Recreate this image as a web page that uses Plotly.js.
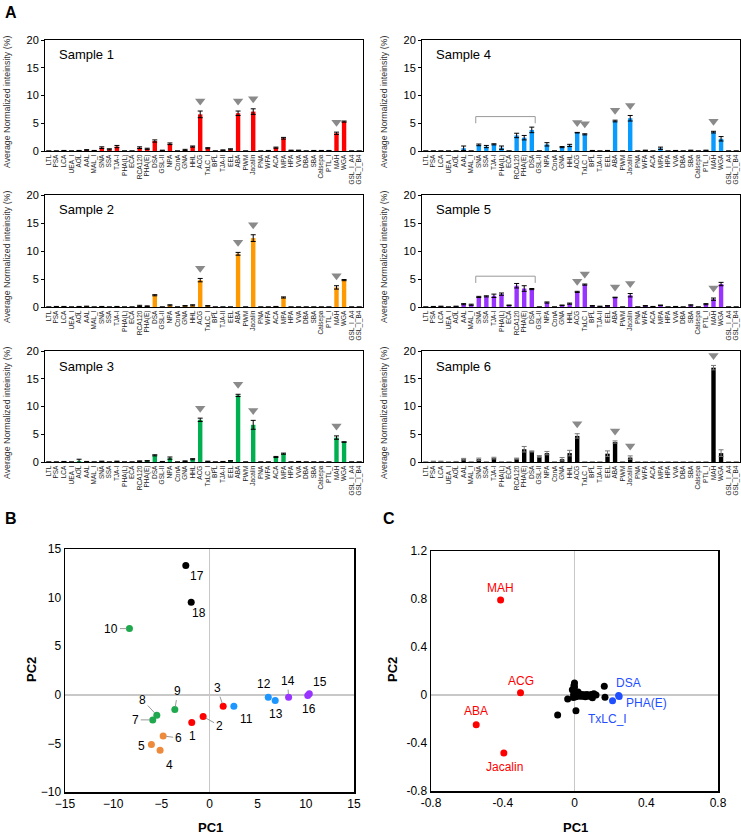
<!DOCTYPE html>
<html><head><meta charset="utf-8">
<script src="https://cdn.plot.ly/plotly-3.0.1.min.js"></script>
<style>html,body{margin:0;padding:0;background:#fff}#chart{width:741px;height:837px}</style>
</head><body><div id="chart"></div>
<script>
const lectins = ['LTL','PSA','LCA','UEA_I','AOL','AAL','MAL_I','SNA','SSA','TJA-I','PHA(L)','ECA','RCA120','PHA(E)','DSA','GSL-II','NPA','ConA','GNA','HHL','ACG','TxLC_I','BPL','TJA-II','EEL','ABA','PWM','Jacalin','PNA','WFA','ACA','MPA','HPA','VVA','DBA','SBA','Calsepa','PTL_I','MAH','WGA','GSL_I_A4','GSL_I_B4'];

const sample1 = [0,0,0.05,0,0.05,0.15,0.05,0.6,0.3,0.8,0,0,0.6,0.4,1.8,0.1,1.3,0,0.2,0.8,6.6,0.5,0,0.15,0.3,6.8,0,7.1,0,0.05,0.6,2.3,0.1,0.1,0,0.05,0.05,0.05,3.2,5.3,0,0];
const err1    = [0,0,0.05,0,0.05,0.1,0.05,0.15,0.1,0.2,0,0,0.15,0.1,0.2,0.05,0.15,0,0.1,0.1,0.6,0.1,0,0.05,0.1,0.4,0,0.5,0,0.05,0.1,0.15,0.05,0.05,0,0.05,0.05,0.05,0.2,0.1,0,0];
const sample2 = [0,0.05,0.05,0,0.05,0.1,0,0.05,0,0.05,0,0,0.2,0.15,2.1,0,0.3,0,0.2,0.3,4.8,0.2,0,0,0,9.5,0,12.3,0,0,0.05,1.7,0,0,0,0,0,0,3.5,4.8,0,0];
const err2    = [0,0.05,0.05,0,0.05,0.05,0,0.05,0,0.05,0,0,0.1,0.05,0.1,0,0.1,0,0.05,0.1,0.3,0.05,0,0,0,0.25,0,0.6,0,0,0.05,0.1,0,0,0,0,0,0,0.3,0.1,0,0];
const sample3 = [0,0,0.05,0,0.2,0.05,0,0.1,0,0.1,0,0,0.15,0.2,1.2,0.05,0.7,0,0.15,0.5,7.6,0.1,0,0.05,0.2,12.0,0,6.7,0,0,0.9,1.5,0,0.05,0,0,0,0,4.4,3.6,0,0];
const err3    = [0,0,0.05,0,0.3,0.05,0,0.05,0,0.05,0,0,0.05,0.05,0.1,0.05,0.2,0,0.05,0.1,0.3,0.05,0,0.05,0.05,0.2,0,0.8,0,0,0.1,0.1,0,0.05,0,0,0,0,0.3,0.05,0,0];
const sample4 = [0,0,0,0,0,0.5,0,1.1,0.8,1.2,0.6,0,2.8,2.4,3.8,0,1.2,0,0.7,1.0,3.3,3.0,0.05,0,0.05,5.4,0,5.9,0,0.1,0,0.5,0,0.05,0,0.1,0,0.1,3.4,2.2,0,0];
const err4    = [0,0,0,0,0,0.4,0,0.15,0.2,0.1,0.3,0,0.4,0.4,0.5,0,0.3,0,0.1,0.2,0.05,0.1,0.05,0,0.05,0.15,0,0.5,0,0.05,0,0.2,0,0.05,0,0.05,0,0.05,0.15,0.4,0,0];
const sample5 = [0,0.05,0.1,0,0.1,0.5,0.4,1.8,1.9,2.0,2.3,0.3,3.8,3.3,3.2,0,0.8,0,0.3,0.6,2.7,4.0,0.2,0.1,0.2,1.7,0,2.1,0,0.2,0.05,0.3,0,0.05,0,0.3,0,0.5,1.4,4.1,0,0];
const err5    = [0,0.05,0.05,0,0.05,0.1,0.1,0.1,0.1,0.3,0.2,0.05,0.4,0.5,0.1,0,0.1,0,0.05,0.1,0.1,0.1,0.05,0.05,0.05,0.05,0,0.3,0,0.05,0.05,0.05,0,0.05,0,0.1,0,0.1,0.2,0.3,0,0];
const sample6 = [0,0.1,0.1,0,0.05,0.5,0,0.5,0,0.7,0,0,0.6,2.3,1.9,1.0,1.6,0,0.5,1.6,4.7,0,0,0,1.5,3.6,0,0.8,0,0,0,0,0,0,0,0,0,0,17.0,1.6,0,0];
const err6    = [0,0.05,0.05,0,0.05,0.15,0,0.2,0,0.15,0,0,0.1,0.5,0.1,0.15,0.3,0,0.3,0.5,0.4,0,0,0,0.5,0.2,0,0.3,0,0,0,0,0,0,0,0,0,0,0.4,0.6,0,0];

const arrows1 = ['ACG','ABA','Jacalin','MAH'];
const arrows2 = ['ACG','ABA','Jacalin','MAH'];
const arrows3 = ['ACG','ABA','Jacalin','MAH'];
const arrows4 = ['ACG','TxLC_I','ABA','Jacalin','MAH'];
const arrows5 = ['ACG','TxLC_I','ABA','Jacalin','MAH'];
const arrows6 = ['ACG','ABA','Jacalin','MAH'];
const sampleNames = ['Sample 1','Sample 2','Sample 3','Sample 4','Sample 5','Sample 6'];

// Panel B: PCA of samples
const pcbLabels = ['1','2','3','4','5','6','7','8','9','10','11','12','13','14','15','16','17','18'];
const pcbX = [-1.84,-0.66,1.42,-5.13,-6.03,-4.81,-5.89,-5.47,-3.6,-8.31,2.53,6.1,6.82,8.21,10.36,10.2,-2.46,-1.9];
const pcbY = [-2.85,-2.24,-1.17,-5.71,-5.12,-4.23,-2.58,-2.1,-1.51,6.81,-1.17,-0.24,-0.58,-0.24,0.1,-0.07,13.31,9.53];
const pcbGroup = [1,1,1,2,2,2,3,3,3,3,4,4,4,5,5,5,6,6];

// Panel C: PCA loadings of lectins
const pccRedNames = ['MAH','ACG','ABA','Jacalin'];
const pccRedX = [-0.412,-0.301,-0.548,-0.394];
const pccRedY = [0.792,0.019,-0.247,-0.483];
const pccBlueNames = ['DSA','PHA(E)','TxLC_I'];
const pccBlueX = [0.246,0.249,0.212];
const pccBlueY = [-0.005,-0.012,-0.047];
const pccBlackX = [-0.094,0.008,-0.038,0.166,0.17,0,-0.003,0,-0.012,0.012,0.05,0.086,0.1,0.108,0.03,0.07,-0.006,0.003,0.02,0.12,0.06,0.04,0.09,0,0.01,0.015,-0.005,0.025,0.035,0.045,0.075,0.095,0.002,0.008,0.055];
const pccBlackY = [-0.167,-0.131,-0.033,0.072,-0.019,0.1,0.08,0.067,0.044,0.011,-0.003,-0.011,-0.022,0.011,-0.01,0.005,-0.02,-0.003,0.025,0,-0.015,0.005,0,0,-0.005,0,0.005,-0.005,0,-0.01,-0.008,0.005,0.03,-0.015,0.002];

// ---------- styling ----------
const FONT = 'Arial, "Liberation Sans", sans-serif';
const W = 741, H = 837;
const px = v => v / W;
const py = v => 1 - v / H;

const samples = [sample1,sample2,sample3,sample4,sample5,sample6];
const errs = [err1,err2,err3,err4,err5,err6];
const arrowsAll = [arrows1,arrows2,arrows3,arrows4,arrows5,arrows6];
const barColors = ['#FF0000','#FF9900','#00B050','#0A9BFF','#9933FF','#000000'];
const errColors = ['#000','#000','#000','#000','#000','#777'];
const colX = [[45,363],[422,740]];
const rowY = [[40,151],[195,307],[351,462]];

const data = [];
const layout = {
  width: W, height: H,
  margin: {l:0,r:0,t:0,b:0},
  paper_bgcolor: '#fff', plot_bgcolor: '#fff',
  showlegend: false,
  bargap: 0.42,
  font: {family: FONT, color: '#000'},
  annotations: [], shapes: []
};

for (let k = 0; k < 6; k++) {
  const col = k < 3 ? 0 : 1, row = k % 3;
  const xa = 'x' + (k+1), ya = 'y' + (k+1);
  const xkey = 'xaxis' + (k === 0 ? '' : k+1), ykey = 'yaxis' + (k === 0 ? '' : k+1);
  layout[xkey] = {
    domain: [px(colX[col][0]), px(colX[col][1])], anchor: ya, type: 'category',
    categoryorder: 'array', categoryarray: lectins,
    tickmode: 'array', tickvals: lectins, ticktext: lectins,
    tickangle: -90, tickfont: {size: 6.5, family: FONT, color: '#222'},
    showline: true, linecolor: '#000', linewidth: 1, mirror: true,
    ticks: '', showgrid: false, zeroline: false, fixedrange: true
  };
  layout[ykey] = {
    domain: [py(rowY[row][1]), py(rowY[row][0])], anchor: xa,
    range: [0, 20], tickvals: [0,5,10,15,20], ticks: 'outside', ticklen: 3, tickcolor: '#000',
    tickfont: {size: 11, family: FONT, color: '#000'},
    showline: true, linecolor: '#000', linewidth: 1, mirror: true,
    showgrid: false, zeroline: false, fixedrange: true
  };
  const vals = samples[k], e = errs[k];
  data.push({
    type: 'bar', x: lectins, y: vals, xaxis: xa, yaxis: ya,
    marker: {color: barColors[k], line: {width: 0}},
    error_y: {type: 'data', array: e, visible: true, color: errColors[k], thickness: 1, width: 2.5}
  });
  const ay = arrowsAll[k].map(n => { const i = lectins.indexOf(n); return vals[i] + e[i] + 1.8; });
  data.push({
    type: 'scatter', mode: 'markers', x: arrowsAll[k], y: ay, xaxis: xa, yaxis: ya,
    cliponaxis: false,
    marker: {symbol: 'triangle-down', size: 9, color: '#8a8a8a', line: {width: 0}}
  });
  layout.annotations.push({
    xref: 'paper', yref: 'paper', x: px(colX[col][0] + 12), y: py(rowY[row][0] + 15),
    xanchor: 'left', yanchor: 'middle', showarrow: false,
    text: sampleNames[k], font: {size: 13, family: FONT, color: '#000'}
  });
  layout.annotations.push({
    xref: 'paper', yref: 'paper', x: px(col === 0 ? 7 : 384), y: py(rowY[row][0] + 62),
    xanchor: 'center', yanchor: 'middle', showarrow: false, textangle: -90,
    text: 'Average Normalized inteinsity (%)', font: {size: 8.8, family: FONT, color: '#333'}
  });
}

// brackets on sample 4 and 5 (SNA..DSA)
const iSNA = lectins.indexOf('SNA') - 0.4, iDSA = lectins.indexOf('DSA') + 0.45;
[[4, 5.0, 6.2], [5, 4.3, 5.5]].forEach(([k, lo, hi]) => {
  const xr = 'x' + k, yr = 'y' + k;
  const ln = {color: '#999', width: 1};
  layout.shapes.push({type:'line', xref:xr, yref:yr, x0:iSNA, x1:iSNA, y0:lo, y1:hi, line:ln});
  layout.shapes.push({type:'line', xref:xr, yref:yr, x0:iSNA, x1:iDSA, y0:hi, y1:hi, line:ln});
  layout.shapes.push({type:'line', xref:xr, yref:yr, x0:iDSA, x1:iDSA, y0:hi, y1:lo, line:ln});
});

// ---------- Panel B ----------
const grpColors = {1:'#FF0000',2:'#EE8A3C',3:'#1FA84D',4:'#1E96FF',5:'#9933FF',6:'#000000'};
layout.xaxis7 = {
  domain: [px(65), px(354)], anchor: 'y7', range: [-15, 15], tickvals: [-15,-10,-5,0,5,10,15],
  tickfont: {size: 12, family: FONT}, ticks: '', showgrid: false,
  zeroline: true, zerolinecolor: '#c8c8c8', zerolinewidth: 1.5,
  showline: true, mirror: true, linecolor: '#000', linewidth: 1.5, fixedrange: true
};
layout.yaxis7 = {
  domain: [py(792), py(549)], anchor: 'x7', range: [-10, 15], tickvals: [-10,-5,0,5,10,15],
  tickfont: {size: 12, family: FONT}, ticks: '', showgrid: false,
  zeroline: true, zerolinecolor: '#c8c8c8', zerolinewidth: 1.5,
  showline: true, mirror: true, linecolor: '#000', linewidth: 1.5, fixedrange: true
};
data.push({
  type: 'scatter', mode: 'markers', x: pcbX, y: pcbY, xaxis: 'x7', yaxis: 'y7',
  marker: {size: 7, color: pcbGroup.map(g => grpColors[g])}
});
const bOff = [[1,13,0],[16,9,1],[-6,-18,1],[9,15,0],[-10,1,0],[15,2,1],[-17,0,1],[-14,-15,1],[3,-18,1],[-18,0,1],
              [13,13,0],[-4,-13,0],[1,14,0],[-1,-16,1],[11,-12,0],[1,14,0],[11,11,0],[8,11,0]];
pcbLabels.forEach((t, i) => {
  const [dx, dy, lead] = bOff[i];
  const a = {xref:'x7', yref:'y7', x: pcbX[i], y: pcbY[i], text: t, font: {size: 12, family: FONT, color:'#000'}};
  if (lead) Object.assign(a, {showarrow: true, ax: dx, ay: dy, arrowhead: 0, arrowwidth: 1, arrowcolor: '#999', standoff: 3});
  else Object.assign(a, {showarrow: false, xshift: dx, yshift: -dy});
  layout.annotations.push(a);
});

// ---------- Panel C ----------
layout.xaxis8 = {
  domain: [px(431), px(718)], anchor: 'y8', range: [-0.8, 0.8], tickvals: [-0.8,-0.4,0,0.4,0.8],
  ticktext: ['-0.8','-0.4','0','0.4','0.8'],
  tickfont: {size: 12, family: FONT}, ticks: '', showgrid: false,
  zeroline: true, zerolinecolor: '#c8c8c8', zerolinewidth: 1.5,
  showline: true, mirror: true, linecolor: '#000', linewidth: 1.5, fixedrange: true
};
layout.yaxis8 = {
  domain: [py(791), py(551)], anchor: 'x8', range: [-0.8, 1.2], tickvals: [-0.8,-0.4,0,0.4,0.8,1.2],
  ticktext: ['-0.8','-0.4','0','0.4','0.8','1.2'],
  tickfont: {size: 12, family: FONT}, ticks: '', showgrid: false,
  zeroline: true, zerolinecolor: '#c8c8c8', zerolinewidth: 1.5,
  showline: true, mirror: true, linecolor: '#000', linewidth: 1.5, fixedrange: true
};
data.push({type:'scatter', mode:'markers', x: pccBlackX, y: pccBlackY, xaxis:'x8', yaxis:'y8', marker:{size:7, color:'#000'}});
data.push({type:'scatter', mode:'markers', x: pccRedX, y: pccRedY, xaxis:'x8', yaxis:'y8', marker:{size:7, color:'#FF0000'}});
data.push({type:'scatter', mode:'markers', x: pccBlueX, y: pccBlueY, xaxis:'x8', yaxis:'y8', marker:{size:7, color:'#1F4FFF'}});
const redOff = [[0,-12],[0,-12],[0,-14],[1,14]];
const blueOff = [[10,-13],[27,7],[-5,18]];
pccRedNames.forEach((t,i) => layout.annotations.push({xref:'x8', yref:'y8', x:pccRedX[i], y:pccRedY[i], text:t, showarrow:false,
  xshift: redOff[i][0], yshift: -redOff[i][1], font:{size:12, family:FONT, color:'#FF0000'}}));
pccBlueNames.forEach((t,i) => layout.annotations.push({xref:'x8', yref:'y8', x:pccBlueX[i], y:pccBlueY[i], text:t, showarrow:false,
  xshift: blueOff[i][0], yshift: -blueOff[i][1], font:{size:12, family:FONT, color:'#1F4FFF'}}));

const paperText = (x, y, text, size, bold, angle) => layout.annotations.push({
  xref:'paper', yref:'paper', x: px(x), y: py(y), xanchor:'center', yanchor:'middle', showarrow:false,
  textangle: angle || 0, text: bold ? '<b>' + text + '</b>' : text, font:{size: size, family: FONT, color:'#000'}
});
paperText(210, 827, 'PC1', 13, true);
paperText(31, 670, 'PC2', 13, true, -90);
paperText(575, 827, 'PC1', 13, true);
paperText(392, 670, 'PC2', 13, true, -90);
paperText(11, 12, 'A', 16, true);
paperText(11, 518, 'B', 16, true);
paperText(389, 518, 'C', 16, true);

Plotly.newPlot('chart', data, layout, {staticPlot: true, displayModeBar: false});
</script></body></html>
